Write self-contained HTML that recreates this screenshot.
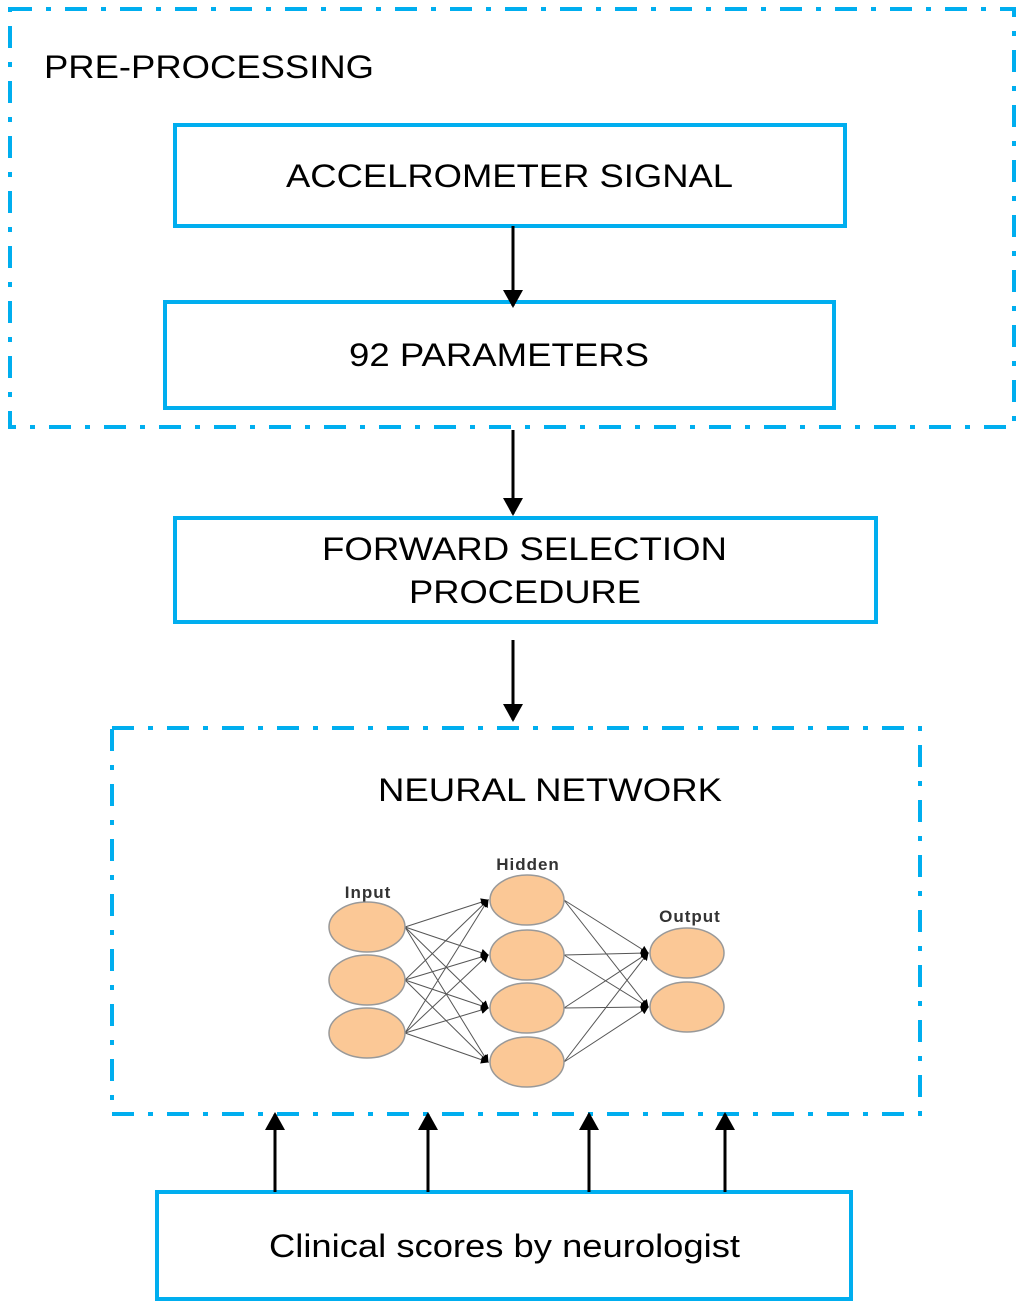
<!DOCTYPE html>
<html><head><style>body{margin:0;background:#fff}</style></head><body>
<svg width="1024" height="1309" xmlns="http://www.w3.org/2000/svg" font-family="Liberation Sans, sans-serif">
<defs>
<marker id="a" markerWidth="8" markerHeight="8" refX="7" refY="4" orient="auto" markerUnits="userSpaceOnUse" viewBox="0 0 8 8"><path d="M0,0L8,4L0,8z" fill="#000"/></marker>
<marker id="b" markerWidth="18" markerHeight="22" refX="16" refY="11" orient="auto" markerUnits="userSpaceOnUse"><path d="M0,1L18,11L0,21z" fill="#000"/></marker>
</defs>
<g fill="none" stroke="#00aeef" stroke-width="4" stroke-dasharray="22 14 5 14">
<rect x="10" y="9" width="1004" height="418"/>
<rect x="112" y="728" width="808" height="386"/>
</g>
<g fill="#fff" stroke="#00aeef" stroke-width="4">
<rect x="175" y="125" width="670" height="101"/>
<rect x="165" y="302" width="669" height="106"/>
<rect x="175" y="518" width="701" height="104"/>
<rect x="157" y="1192" width="694" height="107"/>
</g>
<g font-size="32" fill="#000" lengthAdjust="spacingAndGlyphs">
<text x="44" y="78" textLength="330" lengthAdjust="spacingAndGlyphs">PRE-PROCESSING</text>
<text x="286" y="187" textLength="447" lengthAdjust="spacingAndGlyphs">ACCELROMETER SIGNAL</text>
<text x="349" y="366" textLength="300" lengthAdjust="spacingAndGlyphs">92 PARAMETERS</text>
<text x="322" y="560" textLength="405" lengthAdjust="spacingAndGlyphs">FORWARD SELECTION</text>
<text x="409" y="603" textLength="232" lengthAdjust="spacingAndGlyphs">PROCEDURE</text>
<text x="378" y="801" textLength="344" lengthAdjust="spacingAndGlyphs">NEURAL NETWORK</text>
<text x="269" y="1257" textLength="471" lengthAdjust="spacingAndGlyphs">Clinical scores by neurologist</text>
</g>
<g stroke="#000" stroke-width="3" marker-end="url(#b)">
<line x1="513" y1="226" x2="513" y2="306"/>
<line x1="513" y1="430" x2="513" y2="514"/>
<line x1="513" y1="640" x2="513" y2="720"/>
<line x1="275" y1="1192" x2="275" y2="1114"/>
<line x1="428" y1="1192" x2="428" y2="1114"/>
<line x1="589" y1="1192" x2="589" y2="1114"/>
<line x1="725" y1="1192" x2="725" y2="1114"/>
</g>
<g stroke="#555" stroke-width="1" marker-end="url(#a)">
<line x1="405" y1="927" x2="488" y2="900"/><line x1="405" y1="927" x2="488" y2="955"/><line x1="405" y1="927" x2="488" y2="1008"/><line x1="405" y1="927" x2="488" y2="1062"/>
<line x1="405" y1="980" x2="488" y2="900"/><line x1="405" y1="980" x2="488" y2="955"/><line x1="405" y1="980" x2="488" y2="1008"/><line x1="405" y1="980" x2="488" y2="1062"/>
<line x1="405" y1="1033" x2="488" y2="900"/><line x1="405" y1="1033" x2="488" y2="955"/><line x1="405" y1="1033" x2="488" y2="1008"/><line x1="405" y1="1033" x2="488" y2="1062"/>
<line x1="564" y1="900" x2="648" y2="953"/><line x1="564" y1="900" x2="648" y2="1007"/>
<line x1="564" y1="955" x2="648" y2="953"/><line x1="564" y1="955" x2="648" y2="1007"/>
<line x1="564" y1="1008" x2="648" y2="953"/><line x1="564" y1="1008" x2="648" y2="1007"/>
<line x1="564" y1="1062" x2="648" y2="953"/><line x1="564" y1="1062" x2="648" y2="1007"/>
</g>
<g fill="#fbc896" stroke="#999" stroke-width="1.5">
<ellipse cx="367" cy="927" rx="38" ry="25"/><ellipse cx="367" cy="980" rx="38" ry="25"/><ellipse cx="367" cy="1033" rx="38" ry="25"/>
<ellipse cx="527" cy="900" rx="37" ry="25"/><ellipse cx="527" cy="955" rx="37" ry="25"/><ellipse cx="527" cy="1008" rx="37" ry="25"/><ellipse cx="527" cy="1062" rx="37" ry="25"/>
<ellipse cx="687" cy="953" rx="37" ry="25"/><ellipse cx="687" cy="1007" rx="37" ry="25"/>
</g>
<g font-size="17" font-weight="bold" fill="#333" text-anchor="middle" letter-spacing="1">
<text x="368" y="898">Input</text><text x="528" y="870">Hidden</text><text x="690" y="922">Output</text>
</g>
</svg>
</body></html>
